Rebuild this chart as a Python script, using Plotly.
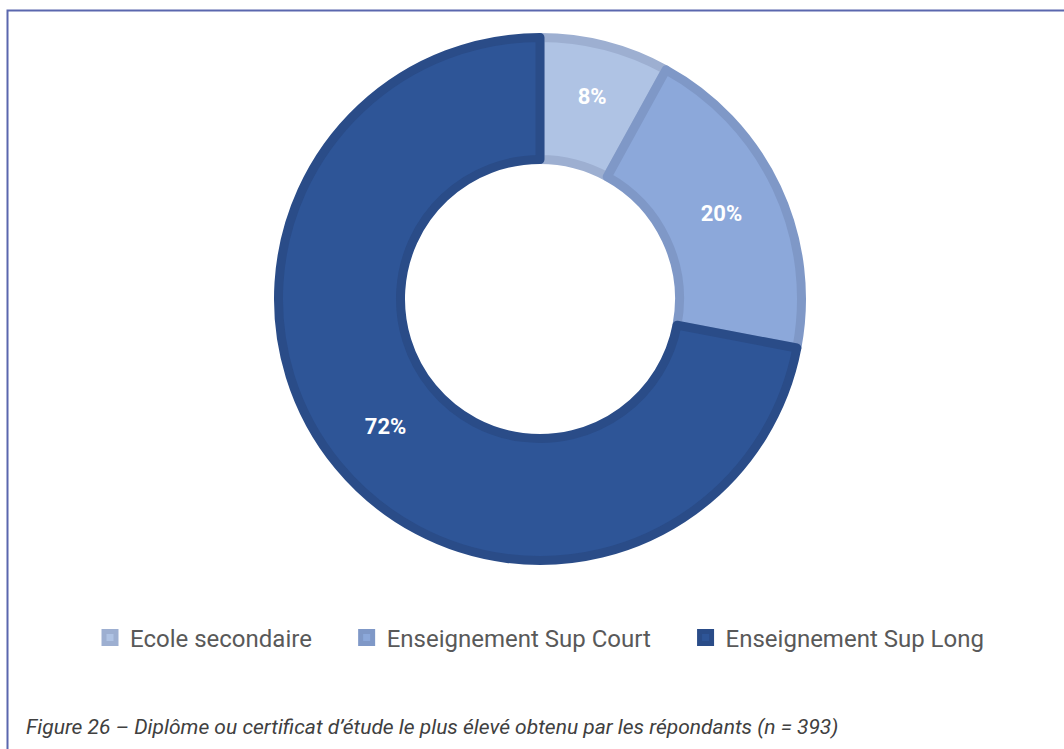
import plotly.graph_objects as go

categories = ["Ecole secondaire", "Enseignement Sup Court", "Enseignement Sup Long"]
values = [8, 20, 72]
fill_colors = ["#AFC3E4", "#8CA8DA", "#2E5597"]
edge_colors = ["#9DAFD1", "#7F98C7", "#2A4C88"]
caption = "Figure 26 – Diplôme ou certificat d’étude le plus élevé obtenu par les répondants (n = 393)"

# legend spacing between entries (non-breaking spaces after the first two labels)
pad = "\u00a0" * 5
legend_labels = [c + pad if i < len(categories) - 1 else c for i, c in enumerate(categories)]

W, H = 1064, 749
cx, cy = 540, 299
lw = 9
r = 266 - lw / 2
hole = (135 + lw / 2) / r

fig = go.Figure(go.Pie(
    labels=legend_labels,
    values=values,
    sort=False,
    direction="clockwise",
    rotation=0,
    hole=hole,
    marker=dict(colors=fill_colors, line=dict(color=edge_colors, width=lw)),
    texttemplate="%{percent:.0%}",
    textposition="inside",
    insidetextorientation="horizontal",
    textfont=dict(family="Roboto", size=22, color="white", weight="bold"),
    hoverinfo="label+percent",
    domain=dict(x=[(cx - 300) / W, (cx + 300) / W],
                y=[1 - (cy + r) / H, 1 - (cy - r) / H]),
))

fig.update_layout(
    width=W, height=H,
    margin=dict(l=0, r=0, t=0, b=0),
    paper_bgcolor="white",
    plot_bgcolor="white",
    font=dict(family="Roboto", color="#595959"),
    showlegend=True,
    legend=dict(
        orientation="h",
        x=90 / W, xanchor="left",
        y=1 - 638 / H, yanchor="middle",
        font=dict(family="Roboto", size=24, color="#595959"),
        traceorder="normal",
    ),
    shapes=[dict(type="rect", xref="paper", yref="paper",
                 x0=7.5 / W, x1=1.02, y0=-0.02, y1=1 - 10.5 / H,
                 line=dict(color="#5A67AE", width=2), layer="below")],
    annotations=[dict(text=caption, xref="paper", yref="paper",
                      x=24 / W, y=1 - 727 / H, xanchor="left", yanchor="middle",
                      showarrow=False,
                      font=dict(family="Roboto", size=21, color="#404040", style="italic"))],
)

fig.write_html("out.html", config={"displayModeBar": False},
               post_script="document.body.style.margin='0';")
